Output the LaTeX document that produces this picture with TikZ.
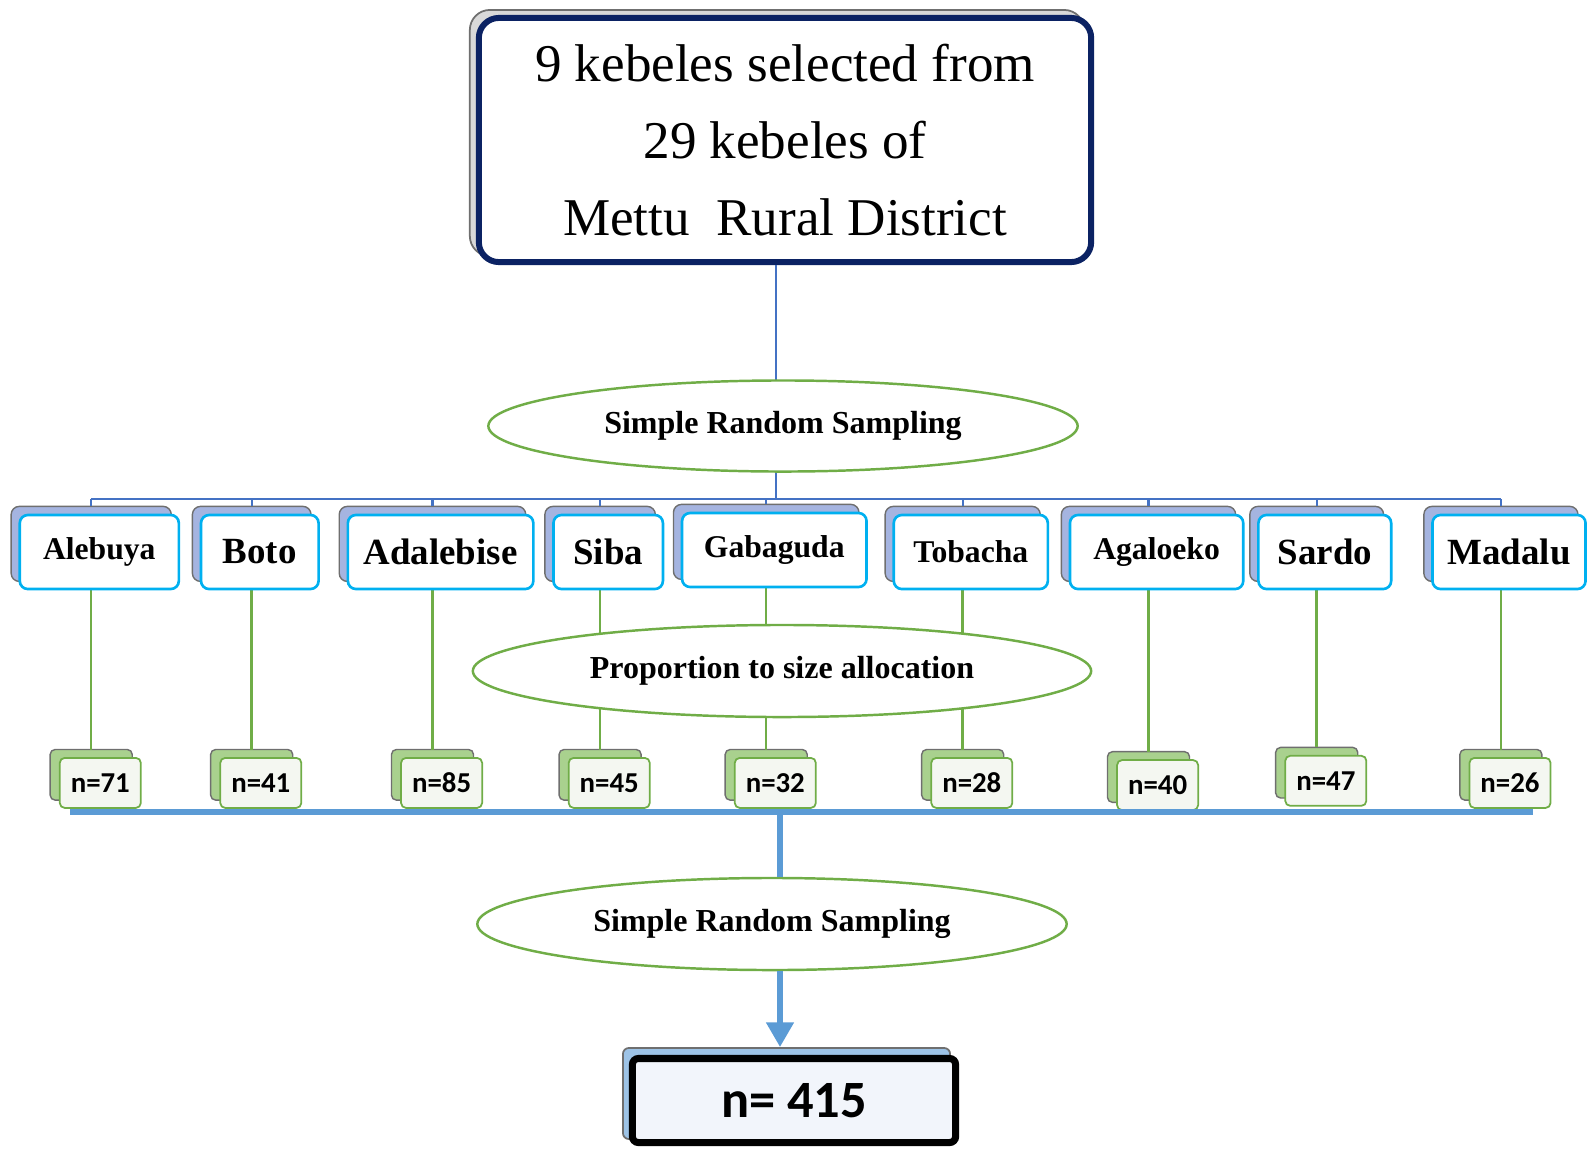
\documentclass[tikz,border=0pt]{standalone}
\usepackage{fontspec}
\setmainfont{Liberation Serif}
\newfontfamily\calibri{Carlito}
\usetikzlibrary{shapes.geometric,arrows.meta}

\definecolor{topnavy}{HTML}{0B2263}
\definecolor{shadegray}{HTML}{D9D9D9}
\definecolor{edgegray}{HTML}{6F6F6F}
\definecolor{kebshade}{HTML}{A5B4E0}
\definecolor{kebcyan}{HTML}{00B0F0}
\definecolor{treeblue}{HTML}{4472C4}
\definecolor{leafgreen}{HTML}{70AD47}
\definecolor{nshade}{HTML}{A9D18E}
\definecolor{nface}{HTML}{F4F7F1}
\definecolor{busblue}{HTML}{5B9BD5}
\definecolor{fshade}{HTML}{9DC3E6}
\definecolor{fface}{HTML}{F2F5FB}

\newcommand\smallname{\fontsize{9}{11}\selectfont\bfseries}
\newcommand\largename{\fontsize{10.5}{12}\selectfont\bfseries}

\tikzset{
  kebback/.style={draw=edgegray, fill=kebshade, line width=0.4pt, rounded corners=2.3pt,
    minimum height=0.75cm, inner sep=0pt, outer sep=0pt},
  kebfront/.style={draw=kebcyan, fill=white, line width=0.75pt, rounded corners=2.3pt,
    minimum height=0.74cm, inner sep=0pt, outer sep=0pt},
  nback/.style={draw=edgegray, fill=nshade, line width=0.4pt, rounded corners=1.4pt,
    minimum width=0.82cm, minimum height=0.506cm, inner sep=0pt, outer sep=0pt},
  nfront/.style={draw=leafgreen, fill=nface, line width=0.5pt, rounded corners=1.4pt,
    minimum width=0.81cm, minimum height=0.50cm, inner sep=0pt, outer sep=0pt,
    font=\calibri\fontsize{8.2}{10}\selectfont\bfseries},
  oval/.style={ellipse, draw=leafgreen, fill=white, line width=0.7pt, inner sep=0pt,
    font=\fontsize{9.1}{11}\selectfont\bfseries},
  treeline/.style={draw=treeblue, line width=0.6pt},
  leafline/.style={draw=leafgreen, line width=0.7pt},
  busline/.style={draw=busblue, line width=1.7pt}
}

\begin{document}
\begin{tikzpicture}[x=0.01cm,y=-0.01cm]
\useasboundingbox (0,0) rectangle (1588,1148);

\node[draw=edgegray, fill=shadegray, line width=0.5pt, rounded corners=5.7pt,
  minimum width=6.14cm, minimum height=2.46cm] (topback) at (777,133) {};
\node[draw=topnavy, fill=white, line width=1.7pt, rounded corners=5.7pt,
  minimum width=6.12cm, minimum height=2.44cm, align=center,
  font=\fontsize{15.1}{21.9}\selectfont] (top) at (785,140)
  {9 kebeles selected from\\29 kebeles of\\Mettu\ \ Rural District};

\coordinate (hub) at (776,499);

\node[kebback, minimum width=1.60cm] (bAle) at (91.2,543.9) {};
\node[kebback, minimum width=1.185cm] (bBot) at (251.7,543.9) {};
\node[kebback, minimum width=1.864cm] (bAda) at (432.5,543.9) {};
\node[kebback, minimum width=1.104cm] (bSib) at (600.1,543.9) {};
\node[kebback, minimum width=1.854cm] (bGab) at (766.2,541.9) {};
\node[kebback, minimum width=1.55cm] (bTob) at (962.7,543.9) {};
\node[kebback, minimum width=1.742cm] (bAga) at (1148.5,543.9) {};
\node[kebback, minimum width=1.337cm] (bSar) at (1316.7,543.9) {};
\node[kebback, minimum width=1.54cm] (bMad) at (1500.9,543.9) {};

\node[nback] (nbAle) at (91.2,774.8) {};
\node[nback] (nbBot) at (251.7,774.8) {};
\node[nback] (nbAda) at (432.5,774.8) {};
\node[nback] (nbSib) at (600.1,774.8) {};
\node[nback] (nbGab) at (766.2,774.8) {};
\node[nback] (nbTob) at (962.7,774.8) {};
\node[nback] (nbAga) at (1148.5,777) {};
\node[nback] (nbSar) at (1316.7,772.7) {};
\node[nback] (nbMad) at (1500.9,774.8) {};

\draw[treeline] (top.south -| hub) -- (hub);
\draw[treeline] (bAle.north |- hub) -- (bMad.north |- hub);
\draw[treeline] (bAle.north) -- (bAle.north |- hub);
\draw[treeline] (bBot.north) -- (bBot.north |- hub);
\draw[treeline] (bAda.north) -- (bAda.north |- hub);
\draw[treeline] (bSib.north) -- (bSib.north |- hub);
\draw[treeline] (bGab.north) -- (bGab.north |- hub);
\draw[treeline] (bTob.north) -- (bTob.north |- hub);
\draw[treeline] (bAga.north) -- (bAga.north |- hub);
\draw[treeline] (bSar.north) -- (bSar.north |- hub);
\draw[treeline] (bMad.north) -- (bMad.north |- hub);

\draw[leafline] (bAle) -- (bAle |- nbAle.north);
\draw[leafline] (bBot) -- (bBot |- nbBot.north);
\draw[leafline] (bAda) -- (bAda |- nbAda.north);
\draw[leafline] (bSib) -- (bSib |- nbSib.north);
\draw[leafline] (bGab) -- (bGab |- nbGab.north);
\draw[leafline] (bTob) -- (bTob |- nbTob.north);
\draw[leafline] (bAga) -- (bAga |- nbAga.north);
\draw[leafline] (bSar) -- (bSar |- nbSar.north);
\draw[leafline] (bMad) -- (bMad |- nbMad.north);

\node[oval, minimum width=5.89cm, minimum height=0.91cm] (srsA) at (783,426) {Simple Random Sampling};
\node[oval, minimum width=6.18cm, minimum height=0.92cm] (pts) at (782,671) {Proportion to size allocation};

\node[kebfront, minimum width=1.59cm, font=\smallname] (Ale) at (99.3,552) {Alebuya};
\node[kebfront, minimum width=1.175cm, font=\largename] (Bot) at (259.8,552) {Boto};
\node[kebfront, minimum width=1.854cm, font=\largename] (Ada) at (440.6,552) {Adalebise};
\node[kebfront, minimum width=1.094cm, font=\largename] (Sib) at (608.2,552) {Siba};
\node[kebfront, minimum width=1.844cm, font=\smallname] (Gab) at (774.3,550) {Gabaguda};
\node[kebfront, minimum width=1.54cm, font=\smallname] (Tob) at (970.8,552) {Tobacha};
\node[kebfront, minimum width=1.732cm, font=\smallname] (Aga) at (1156.6,552) {Agaloeko};
\node[kebfront, minimum width=1.327cm, font=\largename] (Sar) at (1324.8,552) {Sardo};
\node[kebfront, minimum width=1.53cm, font=\largename] (Mad) at (1509,552) {Madalu};

\node[nfront] (nAle) at (100.3,782.9) {n=71};
\node[nfront] (nBot) at (260.8,782.9) {n=41};
\node[nfront] (nAda) at (441.6,782.9) {n=85};
\node[nfront] (nSib) at (609.2,782.9) {n=45};
\node[nfront] (nGab) at (775.3,782.9) {n=32};
\node[nfront] (nTob) at (971.8,782.9) {n=28};
\node[nfront] (nAga) at (1157.6,785.1) {n=40};
\node[nfront] (nSar) at (1325.8,780.8) {n=47};
\node[nfront] (nMad) at (1510,782.9) {n=26};

\coordinate (busL) at (70,812);
\coordinate (busR) at (1533,812);
\coordinate (trunk) at (780,812);
\draw[busline] (busL) -- (busR);

\node[oval, minimum width=5.89cm, minimum height=0.92cm] (srsB) at (772,924) {Simple Random Sampling};

\node[draw=edgegray, fill=fshade, line width=0.5pt, rounded corners=1.7pt,
  minimum width=3.27cm, minimum height=0.91cm] (fback) at (786.5,1093.5) {};
\node[draw=black, fill=fface, line width=2pt, rounded corners=1.7pt,
  minimum width=3.23cm, minimum height=0.84cm,
  font=\calibri\fontsize{14.9}{17}\selectfont\bfseries] (final) at (794,1100.5) {n= 415};

\draw[busline] (trunk) -- (trunk |- srsB.north);
\draw[busline, -{Triangle[length=7pt,width=7.5pt]}] (trunk |- srsB.south) -- (trunk |- fback.north);
\end{tikzpicture}
\end{document}
